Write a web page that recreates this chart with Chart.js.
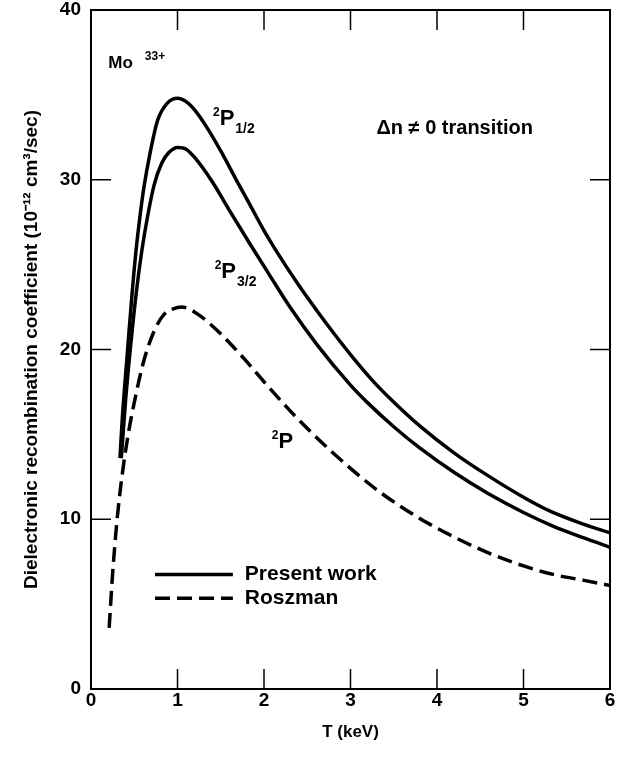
<!DOCTYPE html>
<html>
<head>
<meta charset="utf-8">
<script src="https://cdn.jsdelivr.net/npm/chart.js@4"></script>
<style>
  body { margin: 0; background: #fff; }
  canvas { display: block; background: #fff; }
</style>
</head>
<body>
<canvas id="drChart" width="624" height="757"></canvas>
<script>
// Tick values for both axes
const xTicks = [0, 1, 2, 3, 4, 5, 6];
const yTicks = [0, 10, 20, 30, 40];

// 2P1/2 - present work (upper solid curve)
const p12T = [0.335, 0.36, 0.42, 0.47, 0.52, 0.57, 0.61, 0.68, 0.77, 0.88, 1.0, 1.1, 1.2, 1.35, 1.5, 1.7, 1.84, 2.0, 2.13, 2.4, 2.61, 2.8, 3.0, 3.25, 3.46, 3.8, 4.2, 4.58, 5.0, 5.34, 5.7, 6.0];
const p12Rate = [13.6, 15.8, 19.8, 23.0, 25.8, 28.0, 29.5, 31.5, 33.5, 34.5, 34.8, 34.6, 34.1, 33.0, 31.7, 29.8, 28.5, 27.0, 25.9, 23.8, 22.3, 21.0, 19.7, 18.2, 17.1, 15.5, 13.9, 12.6, 11.3, 10.4, 9.7, 9.2];

// 2P3/2 - present work (lower solid curve)
const p32T = [0.35, 0.40, 0.45, 0.52, 0.59, 0.66, 0.73, 0.82, 0.9, 1.0, 1.1, 1.2, 1.4, 1.6, 1.84, 2.05, 2.3, 2.61, 3.0, 3.19, 3.5, 3.8, 4.2, 4.58, 5.0, 5.34, 5.7, 6.0];
const p32Rate = [13.6, 17.0, 19.8, 23.2, 25.9, 28.0, 29.7, 31.0, 31.6, 31.9, 31.8, 31.3, 29.9, 28.2, 26.2, 24.5, 22.5, 20.3, 17.9, 16.9, 15.45, 14.2, 12.75, 11.55, 10.4, 9.6, 8.9, 8.35];

// 2P - Roszman (dashed curve)
const rosT = [0.21, 0.25, 0.30, 0.36, 0.43, 0.53, 0.62, 0.74, 0.85, 0.95, 1.05, 1.2, 1.4, 1.6, 1.78, 2.0, 2.3, 2.57, 3.0, 3.34, 3.8, 4.2, 4.58, 5.0, 5.34, 5.7, 6.0];
const rosRate = [3.6, 6.8, 9.9, 12.6, 15.0, 17.6, 19.5, 21.2, 22.1, 22.4, 22.5, 22.2, 21.4, 20.4, 19.4, 18.1, 16.4, 15.0, 13.0, 11.6, 10.05, 8.95, 8.05, 7.25, 6.75, 6.4, 6.1];

const FAMILY = '"Liberation Sans", Arial, sans-serif';

function toPoints(xs, ys) {
    return xs.map((x, i) => ({ x: x, y: ys[i] }));
}

// draw a run of text pieces, each with its own size and vertical shift
function drawPieces(ctx, x, y, pieces) {
    let cx = x;
    pieces.forEach(p => {
        ctx.font = 'bold ' + p.size + 'px ' + FAMILY;
        ctx.fillText(p.text, cx, y + (p.dy || 0));
        cx += ctx.measureText(p.text).width + (p.gap || 0);
    });
}

// frame, inward ticks, labels and the little legend
const decorations = {
    id: 'decorations',
    afterDraw(chart) {
        const { ctx, chartArea: a, scales: { x, y } } = chart;
        ctx.save();
        ctx.strokeStyle = '#000';
        ctx.lineWidth = 2;
        ctx.strokeRect(a.left, a.top, a.width, a.height);

        ctx.lineWidth = 1.5;
        ctx.beginPath();
        xTicks.slice(1, -1).forEach(v => {
            const px = x.getPixelForValue(v);
            ctx.moveTo(px, a.bottom); ctx.lineTo(px, a.bottom - 20);
            ctx.moveTo(px, a.top); ctx.lineTo(px, a.top + 20);
        });
        yTicks.slice(1, -1).forEach(v => {
            const py = y.getPixelForValue(v);
            ctx.moveTo(a.left, py); ctx.lineTo(a.left + 20, py);
            ctx.moveTo(a.right, py); ctx.lineTo(a.right - 20, py);
        });
        ctx.stroke();

        ctx.fillStyle = '#000';
        ctx.textBaseline = 'alphabetic';
        ctx.textAlign = 'left';

        // Mo 33+
        drawPieces(ctx, x.getPixelForValue(0.2), y.getPixelForValue(36.6), [
            { text: 'Mo', size: 17, gap: 12 },
            { text: '33+', size: 12, dy: -8 }
        ]);
        // 2P1/2
        drawPieces(ctx, x.getPixelForValue(1.41), y.getPixelForValue(33.2), [
            { text: '2', size: 12, dy: -9 },
            { text: 'P', size: 22, gap: 1 },
            { text: '1/2', size: 14, dy: 8 }
        ]);
        // 2P3/2
        drawPieces(ctx, x.getPixelForValue(1.43), y.getPixelForValue(24.2), [
            { text: '2', size: 12, dy: -9 },
            { text: 'P', size: 22, gap: 1 },
            { text: '3/2', size: 14, dy: 8 }
        ]);
        // 2P (Roszman)
        drawPieces(ctx, x.getPixelForValue(2.09), y.getPixelForValue(14.2), [
            { text: '2', size: 12, dy: -9 },
            { text: 'P', size: 22 }
        ]);
        // Δn ≠ 0 transition
        drawPieces(ctx, x.getPixelForValue(3.3), y.getPixelForValue(32.7), [
            { text: 'Δn ≠ 0 transition', size: 20 }
        ]);

        // legend
        const lx0 = x.getPixelForValue(0.74), lx1 = x.getPixelForValue(1.64);
        const ly1 = y.getPixelForValue(6.75), ly2 = y.getPixelForValue(5.35);
        ctx.lineWidth = 3.5;
        ctx.beginPath(); ctx.moveTo(lx0, ly1); ctx.lineTo(lx1, ly1); ctx.stroke();
        ctx.setLineDash([15, 7]);
        ctx.beginPath(); ctx.moveTo(lx0, ly2); ctx.lineTo(lx1, ly2); ctx.stroke();
        ctx.setLineDash([]);
        ctx.textBaseline = 'middle';
        ctx.font = 'bold 21px ' + FAMILY;
        ctx.fillText('Present work', lx1 + 12, ly1);
        ctx.fillText('Roszman', lx1 + 12, ly2);
        ctx.restore();
    }
};

const tickFont = { family: FAMILY, size: 19, weight: 'bold' };

new Chart(document.getElementById('drChart').getContext('2d'), {
    type: 'line',
    data: {
        datasets: [
            {
                label: '2P1/2 present work',
                data: toPoints(p12T, p12Rate),
                borderColor: '#000',
                borderWidth: 3.5
            },
            {
                label: '2P3/2 present work',
                data: toPoints(p32T, p32Rate),
                borderColor: '#000',
                borderWidth: 3.5
            },
            {
                label: '2P Roszman',
                data: toPoints(rosT, rosRate),
                borderColor: '#000',
                borderWidth: 3.5,
                borderDash: [15, 7]
            }
        ]
    },
    options: {
        responsive: false,
        animation: false,
        layout: { padding: { top: 10, right: 14, left: 0, bottom: 0 } },
        elements: {
            point: { radius: 0 },
            line: { cubicInterpolationMode: 'monotone', fill: false }
        },
        plugins: {
            legend: { display: false },
            tooltip: { enabled: false }
        },
        scales: {
            x: {
                type: 'linear',
                min: 0,
                max: 6,
                afterBuildTicks: s => { s.ticks = xTicks.map(v => ({ value: v })); },
                ticks: { font: tickFont, color: '#000', padding: 0 },
                grid: { display: false, drawTicks: false },
                border: { display: false },
                title: {
                    display: true,
                    text: 'T (keV)',
                    color: '#000',
                    font: { family: FAMILY, size: 17, weight: 'bold' },
                    padding: { top: 0, bottom: 14 }
                },
                afterFit: s => { s.height = 68; s.paddingLeft = 0; s.paddingRight = 0; }
            },
            y: {
                type: 'linear',
                min: 0,
                max: 40,
                afterBuildTicks: s => { s.ticks = yTicks.map(v => ({ value: v })); },
                ticks: { font: tickFont, color: '#000', padding: 10 },
                grid: { display: false, drawTicks: false },
                border: { display: false },
                title: {
                    display: true,
                    text: 'Dielectronic recombination coefficient (10⁻¹² cm³/sec)',
                    color: '#000',
                    font: { family: FAMILY, size: 19, weight: 'bold' },
                    padding: { top: 20, bottom: 0 }
                },
                afterFit: s => { s.width = 91; s.paddingTop = 0; s.paddingBottom = 0; }
            }
        }
    },
    plugins: [decorations]
});
</script>
</body>
</html>
